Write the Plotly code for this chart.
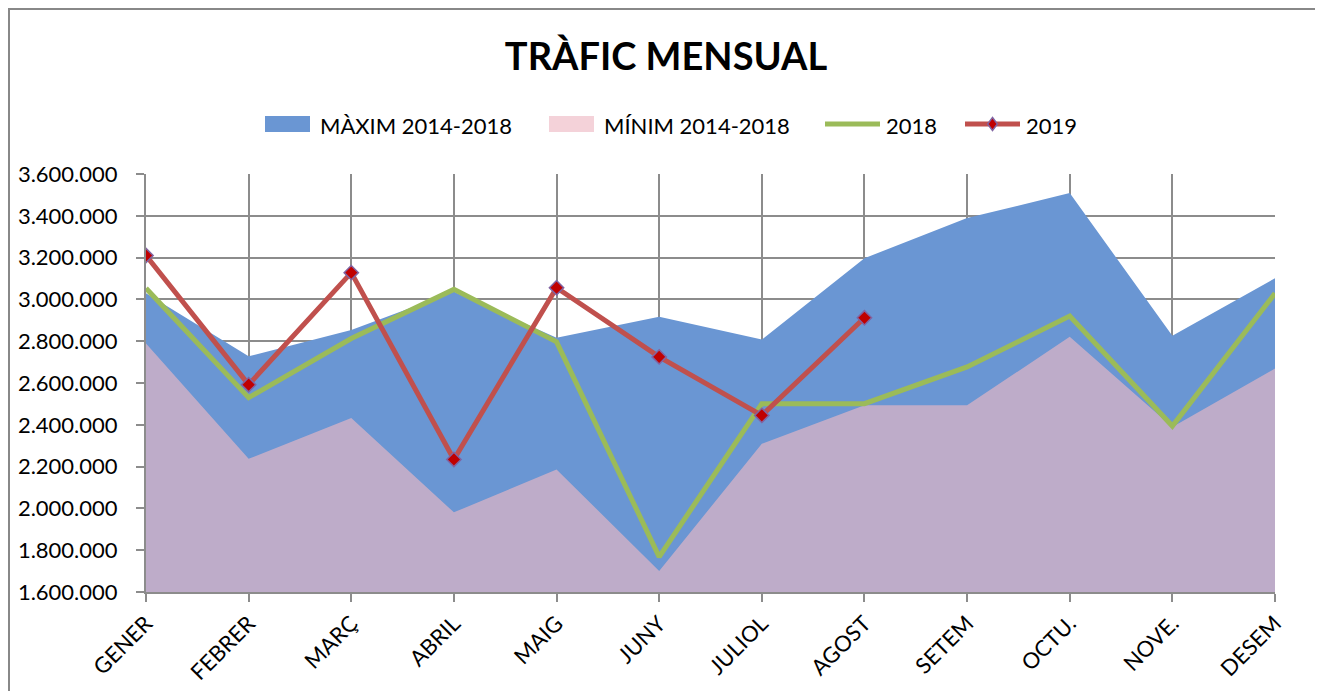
import plotly.graph_objects as go

months = ["GENER", "FEBRER", "MARÇ", "ABRIL", "MAIG", "JUNY", "JULIOL", "AGOST",
          "SETEM", "OCTU.", "NOVE.", "DESEM"]
max_2014_2018 = [3030000, 2728000, 2853000, 3037000, 2816000, 2917000, 2808000, 3197000,
                 3389000, 3509000, 2826000, 3101000]
min_2014_2018 = [2789000, 2237000, 2432000, 1981000, 2186000, 1701000, 2309000, 2493000,
                 2493000, 2821000, 2389000, 2669000]
y2018 = [3053000, 2530000, 2813000, 3048000, 2797000, 1768000, 2501000, 2501000,
         2677000, 2920000, 2394000, 3029000]
y2019 = [3210000, 2592000, 3128000, 2234000, 3056000, 2725000, 2445000, 2912000,
         None, None, None, None]
y_ticks = [1600000, 1800000, 2000000, 2200000, 2400000, 2600000, 2800000, 3000000,
           3200000, 3400000, 3600000]
series_names = ["MÀXIM 2014-2018", "MÍNIM 2014-2018", "2018", "2019"]

FONT = "Lato, Carlito, Calibri, sans-serif"
BLUE = "#6A96D3"
PINK = "rgba(238,184,196,0.64)"
GREEN = "#9BBB59"
RED = "#C0504D"

fig = go.Figure()
fig.add_trace(go.Scatter(
    x=months, y=max_2014_2018, name=series_names[0], mode="lines",
    line=dict(width=0, color=BLUE), fill="tozeroy", fillcolor=BLUE, showlegend=False,
))
fig.add_trace(go.Scatter(
    x=months, y=min_2014_2018, name=series_names[1], mode="lines",
    line=dict(width=0, color=PINK), fill="tozeroy", fillcolor=PINK, showlegend=False,
))
fig.add_trace(go.Scatter(
    x=months, y=y2018, name=series_names[2], mode="lines",
    line=dict(width=5, color=GREEN), showlegend=False,
))
fig.add_trace(go.Scatter(
    x=months, y=y2019, name=series_names[3], mode="lines+markers",
    line=dict(width=5, color=RED),
    marker=dict(symbol="diamond", size=11, color="#C00000",
                line=dict(width=1.5, color="#8064A2")),
    showlegend=False,
))

# page geometry (body has an 8px default margin)
OFF = 8
W, H = 1323 - OFF, 691 - OFF
px_l, px_r, px_t, px_b = 146, 1275, 174, 592
pw, ph = px_r - px_l, px_b - px_t


def pxx(x):
    return (x - px_l) / pw


def pxy(y):
    return (px_b - y) / ph


shapes = []
annotations = []
# outer chart border
shapes.append(dict(type="rect", xref="paper", yref="paper",
                   x0=pxx(9), x1=pxx(1340), y0=pxy(710), y1=pxy(9),
                   line=dict(color="#888888", width=2), fillcolor="rgba(0,0,0,0)",
                   layer="below"))

# custom legend
leg_y = 124
shapes.append(dict(type="rect", xref="paper", yref="paper",
                   x0=pxx(265), x1=pxx(310), y0=pxy(132), y1=pxy(116),
                   fillcolor=BLUE, line=dict(width=0)))
shapes.append(dict(type="rect", xref="paper", yref="paper",
                   x0=pxx(549), x1=pxx(594), y0=pxy(132), y1=pxy(116),
                   fillcolor=PINK, line=dict(width=0)))
shapes.append(dict(type="line", xref="paper", yref="paper",
                   x0=pxx(825), x1=pxx(880), y0=pxy(leg_y), y1=pxy(leg_y),
                   line=dict(color=GREEN, width=5)))
shapes.append(dict(type="line", xref="paper", yref="paper",
                   x0=pxx(965), x1=pxx(1020), y0=pxy(leg_y), y1=pxy(leg_y),
                   line=dict(color=RED, width=5)))
cx, cy, d = 992.5, leg_y, 6.5
shapes.append(dict(type="path", xref="paper", yref="paper",
                   path=(f"M {pxx(cx)},{pxy(cy - d)} L {pxx(cx + d * 0.75)},{pxy(cy)} "
                         f"L {pxx(cx)},{pxy(cy + d)} L {pxx(cx - d * 0.75)},{pxy(cy)} Z"),
                   fillcolor="#C00000", line=dict(color="#8064A2", width=1.5)))

for name, x0 in zip(series_names, [318, 602, 884, 1024]):
    annotations.append(dict(text=name, xref="paper", yref="paper", x=pxx(x0), y=pxy(leg_y + 1),
                            xanchor="left", yanchor="middle", showarrow=False,
                            font=dict(size=22, family=FONT, color="black")))

fig.update_layout(
    width=W, height=H,
    margin=dict(l=px_l - OFF, r=1323 - px_r, t=px_t - OFF, b=691 - px_b, pad=0,
                autoexpand=False),
    paper_bgcolor="white", plot_bgcolor="white",
    separators=",.",
    font=dict(family=FONT, size=22, color="black"),
    title=dict(text="<b>TRÀFIC MENSUAL</b>", x=(666 - OFF) / W, xanchor="center",
               y=1 - (57 - OFF) / H, yanchor="middle", font=dict(size=38, family=FONT)),
    showlegend=False,
    shapes=shapes,
    annotations=annotations,
    xaxis=dict(type="category", range=[0, 11], showgrid=True, gridcolor="#8C8C8C",
               gridwidth=1.5, showline=True, linecolor="#8C8C8C", linewidth=2,
               ticks="outside", ticklen=8, tickcolor="#8C8C8C", tickwidth=1.5,
               tickangle=-45, tickfont=dict(size=22), automargin=False),
    yaxis=dict(range=[1600000, 3600000], tickvals=y_ticks, tickformat=",d",
               showgrid=True, gridcolor="#8C8C8C", gridwidth=1.5,
               showline=True, linecolor="#8C8C8C", linewidth=2,
               ticks="outside", ticklen=8, tickcolor="#8C8C8C", tickwidth=1.5,
               ticklabelstandoff=14, tickfont=dict(size=22), zeroline=False,
               automargin=False),
)

fig.write_html("out.html")
